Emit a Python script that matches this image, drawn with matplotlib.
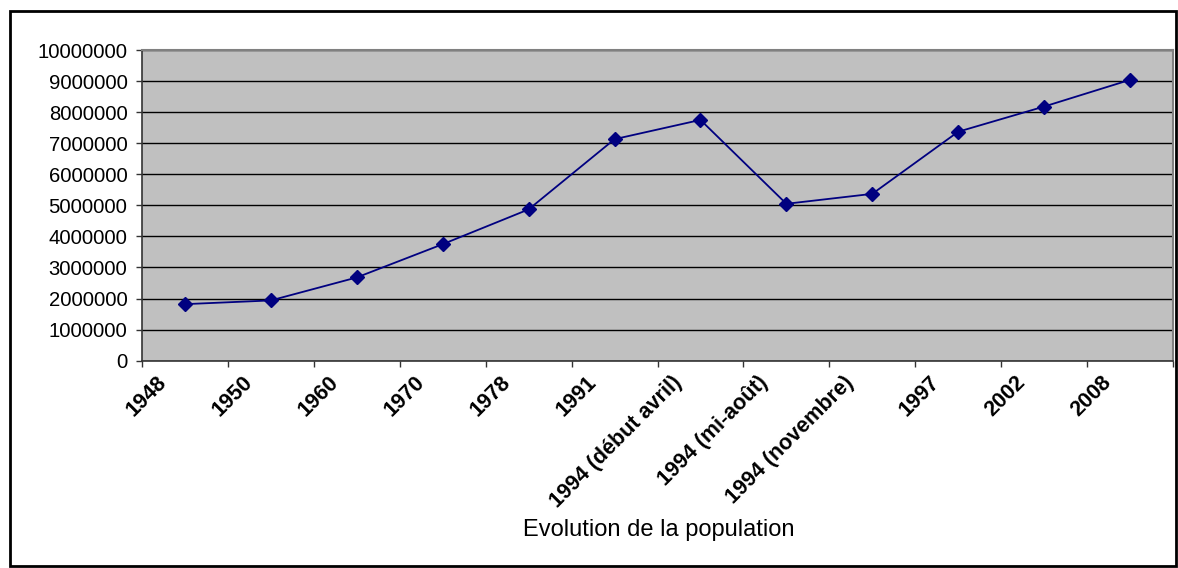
import matplotlib
matplotlib.use("Agg")
import matplotlib.pyplot as plt
import matplotlib.patches as patches
import matplotlib.transforms as mtransforms
from matplotlib.ticker import FixedLocator, NullFormatter

plt.rcParams['font.family'] = ['Liberation Sans', 'DejaVu Sans']

# Data
categories = ["1948", "1950", "1960", "1970", "1978", "1991",
              "1994 (début avril)", "1994 (mi-août)", "1994 (novembre)",
              "1997", "2002", "2008"]
population = [1820000, 1940000, 2680000, 3750000, 4870000, 7130000,
              7750000, 5050000, 5370000, 7370000, 8180000, 9040000]
y_ticks = list(range(0, 10000001, 1000000))
x_title = "Evolution de la population"

W, H = 1178, 568
fig = plt.figure(figsize=(W / 100, H / 100), dpi=100)

# plot area in pixel coords (from the reference)
left, right, top, bottom = 142, 1173, 50, 360.7
ax = fig.add_axes([left / W, 1 - bottom / H, (right - left) / W, (bottom - top) / H])
ax.set_facecolor("#c0c0c0")

x = list(range(len(categories)))
ax.plot(x, population, color="#000080", linewidth=1.3, marker="D",
        markersize=7.5, markerfacecolor="#000080", markeredgecolor="#000080")

ax.set_xlim(-0.5, len(categories) - 0.5)
ax.set_ylim(0, 10000000)

# y axis
ax.set_yticks(y_ticks)
ax.set_yticklabels([str(v) for v in y_ticks], fontsize=14.6)
ax.yaxis.grid(True, color="black", linewidth=1)
ax.set_axisbelow(True)
ax.tick_params(axis="y", direction="out", length=4, width=1, pad=6.5, color="#333333")

# x axis: ticks between categories, labels at category centres
ax.xaxis.set_major_locator(FixedLocator([i - 0.5 for i in range(len(categories) + 1)]))
ax.xaxis.set_major_formatter(NullFormatter())
ax.xaxis.set_minor_locator(FixedLocator(x))
ax.set_xticklabels(categories, minor=True, fontsize=15.5, fontweight="bold",
                   rotation=45, ha="right", va="top")
ax.tick_params(axis="x", which="major", direction="out", length=4, width=1, color="#333333")
ax.tick_params(axis="x", which="minor", length=0, pad=8)
offset = mtransforms.ScaledTranslation(-14 / 100, 0, fig.dpi_scale_trans)
for lab in ax.get_xticklabels(minor=True):
    lab.set_transform(lab.get_transform() + offset)

for side in ["left", "bottom"]:
    ax.spines[side].set_color("#333333")
    ax.spines[side].set_linewidth(1.2)
for side in ["top", "right"]:
    ax.spines[side].set_color("#808080")
    ax.spines[side].set_linewidth(1.5)

fig.text(659 / W, 1 - 530 / H, x_title, fontsize=17, ha="center", va="center")

# outer chart border
fig.patches.append(patches.Rectangle((10 / W, 1 - 566 / H), 1166 / W, 555 / H,
                                     transform=fig.transFigure, fill=False,
                                     edgecolor="black", linewidth=2))

fig.savefig("out.png", dpi=100)
